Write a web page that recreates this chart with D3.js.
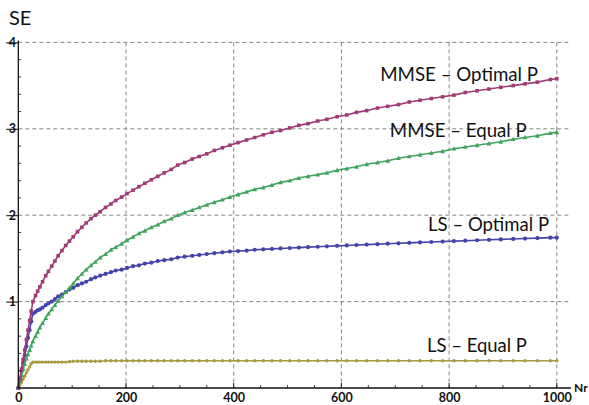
<!DOCTYPE html>
<html>
<head>
<meta charset="utf-8">
<script src="https://cdn.jsdelivr.net/npm/d3@7"></script>
<style>
  html, body { margin: 0; padding: 0; background: #fff; }
  svg { display: block; }
  text { font-family: Lato, "Open Sans", sans-serif; fill: #111; }
</style>
</head>
<body>
<svg id="chart" width="589" height="405"></svg>
<script>
// Number of receive antennas at which each curve is sampled
const nr = [0, 3, 6, 9, 12, 15, 18, 21, 24, 27, 32, 36, 40, 45, 51, 56, 62, 68, 74, 81,
  88, 95, 102, 110, 118, 126, 135, 143, 152, 162, 172, 181, 192, 202, 213, 224, 235, 247,
  259, 271, 284, 296, 309, 323, 336, 350, 364, 379, 393, 408, 424, 439, 455, 471, 487,
  504, 521, 538, 556, 573, 592, 610, 628, 647, 667, 686, 706, 726, 746, 767, 788, 809,
  830, 852, 874, 896, 919, 941, 964, 988, 1000];

// Spectral efficiency per scheme
const mmseOptimal = [0, 0.11, 0.22, 0.33, 0.44, 0.56, 0.67, 0.78, 0.89, 1.00, 1.07, 1.12,
  1.17, 1.23, 1.30, 1.35, 1.41, 1.47, 1.53, 1.59, 1.65, 1.70, 1.75, 1.81, 1.86, 1.91, 1.96,
  2.00, 2.04, 2.09, 2.13, 2.17, 2.21, 2.25, 2.29, 2.33, 2.37, 2.41, 2.45, 2.49, 2.53, 2.58,
  2.61, 2.65, 2.68, 2.71, 2.75, 2.78, 2.81, 2.84, 2.87, 2.90, 2.93, 2.96, 2.98, 3.01, 3.04,
  3.06, 3.09, 3.11, 3.14, 3.16, 3.19, 3.21, 3.24, 3.26, 3.28, 3.31, 3.33, 3.35, 3.37, 3.39,
  3.42, 3.44, 3.46, 3.48, 3.50, 3.52, 3.54, 3.57, 3.58];

const mmseEqual = [0, 0.08, 0.15, 0.22, 0.28, 0.34, 0.39, 0.44, 0.49, 0.54, 0.60, 0.65,
  0.70, 0.75, 0.81, 0.86, 0.91, 0.96, 1.01, 1.06, 1.11, 1.16, 1.21, 1.27, 1.32, 1.37, 1.42,
  1.46, 1.51, 1.55, 1.60, 1.63, 1.67, 1.71, 1.75, 1.79, 1.82, 1.86, 1.89, 1.93, 1.96, 2.00,
  2.03, 2.06, 2.09, 2.12, 2.15, 2.18, 2.21, 2.24, 2.27, 2.30, 2.32, 2.35, 2.38, 2.40, 2.43,
  2.45, 2.47, 2.49, 2.52, 2.54, 2.56, 2.59, 2.61, 2.63, 2.66, 2.68, 2.70, 2.72, 2.74, 2.77,
  2.79, 2.81, 2.83, 2.85, 2.88, 2.90, 2.92, 2.95, 2.96];

const lsOptimal = [0, 0.10, 0.19, 0.29, 0.38, 0.48, 0.58, 0.67, 0.77, 0.86, 0.88, 0.90,
  0.91, 0.93, 0.96, 0.98, 1.00, 1.03, 1.06, 1.08, 1.11, 1.14, 1.16, 1.19, 1.21, 1.23, 1.26,
  1.28, 1.30, 1.32, 1.34, 1.36, 1.37, 1.39, 1.41, 1.42, 1.44, 1.45, 1.47, 1.48, 1.49, 1.51,
  1.52, 1.53, 1.54, 1.55, 1.56, 1.57, 1.58, 1.585, 1.59, 1.60, 1.605, 1.61, 1.615, 1.62,
  1.625, 1.63, 1.635, 1.64, 1.645, 1.65, 1.655, 1.66, 1.665, 1.67, 1.675, 1.68, 1.685, 1.69,
  1.695, 1.70, 1.705, 1.71, 1.715, 1.72, 1.725, 1.73, 1.735, 1.74, 1.74];

const lsEqual = [0, 0.035, 0.07, 0.105, 0.14, 0.175, 0.21, 0.245, 0.28, 0.30, 0.30, 0.30,
  0.30, 0.30, 0.30, 0.30, 0.30, 0.30, 0.30, 0.30, 0.30, 0.305, 0.31, 0.31, 0.31, 0.31, 0.31,
  0.31, 0.31, 0.315, 0.315, 0.315, 0.315, 0.315, 0.315, 0.315, 0.315, 0.315, 0.315, 0.315,
  0.315, 0.315, 0.315, 0.315, 0.315, 0.315, 0.315, 0.315, 0.315, 0.315, 0.315, 0.315, 0.315,
  0.315, 0.315, 0.315, 0.315, 0.315, 0.315, 0.315, 0.315, 0.315, 0.315, 0.315, 0.315, 0.315,
  0.315, 0.315, 0.315, 0.315, 0.315, 0.315, 0.315, 0.315, 0.315, 0.315, 0.315, 0.315, 0.315,
  0.315, 0.315];

const seriesNames = ["MMSE \u2013 Optimal P", "MMSE \u2013 Equal P", "LS \u2013 Optimal P", "LS \u2013 Equal P"];
const xTicks = [0, 200, 400, 600, 800, 1000];
const yTicks = [1, 2, 3, 4];
const xTitle = "Nr";
const yTitle = "SE";

const svg = d3.select("#chart");
const x = d3.scaleLinear().domain([0, 1000]).range([18.3, 556.8]);
const y = d3.scaleLinear().domain([0, 4]).range([388, 42.4]);
const gridRight = 569;
const axisRight = 571;

// dashed grid
const grid = svg.append("g").attr("stroke", "#858585").attr("stroke-width", 1)
  .attr("stroke-dasharray", "4,3").attr("fill", "none");
grid.selectAll("line.h").data(yTicks).join("line").attr("class", "h")
  .attr("x1", x(0)).attr("x2", gridRight).attr("y1", d => y(d)).attr("y2", d => y(d));
grid.selectAll("line.v").data(xTicks.filter(d => d > 0)).join("line").attr("class", "v")
  .attr("x1", d => x(d)).attr("x2", d => x(d)).attr("y1", y(4)).attr("y2", y(0));

// series
const series = [
  { name: seriesNames[3], values: lsEqual, color: "#a89a42", shape: "circle", size: 1.7 },
  { name: seriesNames[2], values: lsOptimal, color: "#4343a8", shape: "circle", size: 2.1 },
  { name: seriesNames[1], values: mmseEqual, color: "#40a35c", shape: "triangle", size: 2.4 },
  { name: seriesNames[0], values: mmseOptimal, color: "#9e3b76", shape: "square", size: 1.8 }
];

const line = d3.line().x(d => x(d[0])).y(d => y(d[1]));

series.forEach(s => {
  const pts = nr.map((n, i) => [n, s.values[i]]);
  const g = svg.append("g");
  g.append("path").datum(pts).attr("d", line)
    .attr("fill", "none").attr("stroke", s.color).attr("stroke-width", 1.6)
    .attr("stroke-linejoin", "round");
  const m = g.selectAll(".m").data(pts).join(
    s.shape === "circle" ? "circle" : "path");
  if (s.shape === "circle") {
    m.attr("cx", d => x(d[0])).attr("cy", d => y(d[1])).attr("r", s.size).attr("fill", s.color);
  } else if (s.shape === "square") {
    const h = s.size;
    m.attr("d", d => `M${x(d[0]) - h},${y(d[1]) - h}h${2 * h}v${2 * h}h${-2 * h}Z`).attr("fill", s.color);
  } else {
    const h = s.size;
    m.attr("d", d => {
      const cx = x(d[0]), cy = y(d[1]);
      return `M${cx},${cy - h}L${cx + h},${cy + h * 0.8}L${cx - h},${cy + h * 0.8}Z`;
    }).attr("fill", s.color);
  }
});

// axes
const yAxis = d3.axisLeft(y).tickValues(yTicks).tickSize(12).tickPadding(-9.7)
  .tickFormat(d3.format("d"));
const yg = svg.append("g").attr("transform", `translate(${x(0)},0)`).call(yAxis);
yg.select(".domain").remove();
yg.selectAll(".tick line").attr("stroke", "#111").attr("stroke-width", 1.1);
yg.selectAll(".tick text").attr("font-family", "Lato, sans-serif").attr("font-weight", "bold")
  .attr("font-size", 12.5).attr("fill", "#111");

const xAxis = d3.axisBottom(x).tickValues(xTicks).tickSize(0).tickPadding(5)
  .tickFormat(d3.format("d"));
const xg = svg.append("g").attr("transform", `translate(0,${y(0)})`).call(xAxis);
xg.select(".domain").remove();
xg.selectAll(".tick text").attr("font-family", "Lato, sans-serif").attr("font-weight", "bold")
  .attr("font-size", 12.5).attr("fill", "#111");

// axis lines
svg.append("line").attr("x1", x(0)).attr("x2", x(0)).attr("y1", y(4) - 2).attr("y2", y(0))
  .attr("stroke", "#111").attr("stroke-width", 1.3);
svg.append("line").attr("x1", x(0)).attr("x2", axisRight).attr("y1", y(0)).attr("y2", y(0))
  .attr("stroke", "#111").attr("stroke-width", 1.3);

// minor ticks pointing into the plot
const xMinor = d3.range(50, 1001, 50).filter(d => d % 200 !== 0);
const yMinor = d3.range(0.2, 4, 0.2).filter(d => Math.abs(d - Math.round(d)) > 1e-6);
svg.append("g").selectAll("line").data(xMinor).join("line")
  .attr("x1", d => x(d)).attr("x2", d => x(d)).attr("y1", y(0)).attr("y2", y(0) - 3)
  .attr("stroke", "#111").attr("stroke-width", 0.8);
svg.append("g").selectAll("line").data(xTicks).join("line")
  .attr("x1", d => x(d)).attr("x2", d => x(d)).attr("y1", y(0)).attr("y2", y(0) - 5)
  .attr("stroke", "#111").attr("stroke-width", 1);
svg.append("g").selectAll("line").data(yMinor).join("line")
  .attr("x1", x(0)).attr("x2", x(0) + 3).attr("y1", d => y(d)).attr("y2", d => y(d))
  .attr("stroke", "#111").attr("stroke-width", 0.8);

// axis titles
svg.append("text").attr("x", 9).attr("y", 25).attr("font-size", 20).text(yTitle);
svg.append("text").attr("x", 574).attr("y", 392).attr("font-size", 12)
  .attr("font-weight", "bold").text(xTitle);

// curve labels, sized to their span
const labelSpecs = [
  { text: seriesNames[0], nr: 672, se: 3.557, width: 158 },
  { text: seriesNames[1], nr: 690, se: 2.902, width: 137 },
  { text: seriesNames[2], nr: 761, se: 1.821, width: 121 },
  { text: seriesNames[3], nr: 759, se: 0.421, width: 100 }
];
labelSpecs.forEach(l => {
  const t = svg.append("text").attr("x", x(l.nr)).attr("y", y(l.se))
    .attr("font-size", 18).text(l.text);
  const w = t.node().getComputedTextLength();
  t.attr("font-size", (18 * l.width / w).toFixed(2));
});
</script>
</body>
</html>
